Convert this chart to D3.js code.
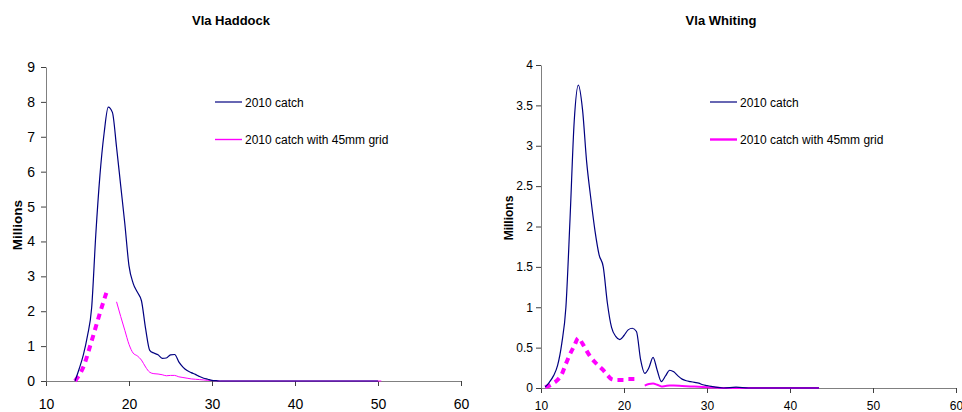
<!DOCTYPE html>
<html>
<head>
<meta charset="utf-8">
<title>Vla Haddock / Vla Whiting</title>
<script src="https://cdn.jsdelivr.net/npm/d3@7"></script>
<style>
  body { margin: 0; background: #fff; }
  svg text { font-family: "Liberation Sans", Arial, sans-serif; fill: #000; }
</style>
</head>
<body>
<script>
// Haddock (left) - length (cm) and catch (millions)
var hadLen   = [13.5, 14, 14.5, 15, 15.5, 16, 16.5, 17, 17.5, 18, 18.5, 19, 19.5, 20, 20.5, 21, 21.5, 22, 22.5, 23, 23.5, 24, 24.5, 25, 25.5, 26, 26.5, 27, 27.5, 28, 28.5, 29, 29.5, 30, 30.5, 31, 40, 50];
var hadCatch = [0, 0.35, 0.75, 1.3, 2.1, 4.2, 5.9, 7.1, 7.85, 7.7, 6.7, 5.6, 4.5, 3.3, 2.8, 2.55, 2.3, 1.5, 0.88, 0.8, 0.75, 0.65, 0.66, 0.75, 0.76, 0.55, 0.4, 0.3, 0.24, 0.19, 0.13, 0.08, 0.05, 0.02, 0.01, 0, 0, 0];
// 45mm grid: dotted part then solid part
var hadGridDotLen = [13.5, 14.5, 15.5, 16.5, 17.3];
var hadGridDot    = [0, 0.4, 1.15, 1.95, 2.55];
var hadGridLen = [18.5, 19, 19.5, 20, 20.5, 21, 21.5, 22, 22.5, 23, 23.5, 24, 24.5, 25, 25.5, 26, 26.5, 27, 27.5, 28, 28.5, 29, 29.5, 30, 31, 40, 50.4];
var hadGrid    = [2.27, 1.85, 1.45, 1.05, 0.8, 0.72, 0.6, 0.4, 0.25, 0.21, 0.2, 0.18, 0.15, 0.16, 0.16, 0.12, 0.1, 0.08, 0.06, 0.05, 0.04, 0.03, 0.02, 0.01, 0, 0, 0];

// Whiting (right)
var whiLen   = [10.5, 11, 11.5, 12, 12.5, 13, 13.5, 14, 14.5, 15, 15.5, 16, 16.5, 17, 17.5, 18, 18.5, 19, 19.5, 20, 20.5, 21, 21.5, 22, 22.5, 23, 23.5, 24, 24.5, 25, 25.5, 26, 26.5, 27, 27.5, 28, 28.5, 29, 29.5, 30, 30.5, 31, 32, 33.5, 35, 43.5];
var whiCatch = [0.01, 0.07, 0.15, 0.28, 0.55, 1.0, 2.1, 3.3, 3.75, 3.45, 2.8, 2.35, 1.95, 1.65, 1.5, 1.05, 0.75, 0.64, 0.6, 0.65, 0.72, 0.74, 0.7, 0.35, 0.18, 0.25, 0.38, 0.22, 0.08, 0.15, 0.22, 0.2, 0.15, 0.11, 0.09, 0.08, 0.07, 0.06, 0.04, 0.03, 0.02, 0.01, 0, 0.01, 0, 0];
var whiGridDotLen = [10.5, 11, 11.5, 12, 12.5, 13, 13.5, 14, 14.5, 15, 15.5, 16, 16.5, 17, 17.5, 18, 18.5, 19, 19.5, 20, 20.5, 21, 21.5];
var whiGridDot    = [0.01, 0.03, 0.06, 0.1, 0.17, 0.3, 0.42, 0.52, 0.62, 0.55, 0.46, 0.38, 0.32, 0.27, 0.22, 0.16, 0.11, 0.1, 0.1, 0.1, 0.11, 0.11, 0.11];
var whiGridLen = [22.5, 23, 23.5, 24, 24.5, 25, 25.5, 26, 27, 28, 29, 30, 31, 32, 43.5];
var whiGrid    = [0.03, 0.05, 0.055, 0.04, 0.02, 0.025, 0.03, 0.03, 0.025, 0.02, 0.015, 0.01, 0.005, 0, 0];

var xTicks = [10, 20, 30, 40, 50, 60];
var legendNames = ["2010 catch", "2010 catch with 45mm grid"];

var navy = "#000080", pink = "#ff00ff";

var svg = d3.select("body").append("svg")
	.attr("width", 962)
	.attr("height", 412);

function zip(xs, ys){
	return xs.map(function(x, i){ return [x, ys[i]]; });
}

function drawChart(c){
	var g = svg.append("g");
	var x = d3.scaleLinear().domain([10, 60]).range([c.left, c.right]);
	var y = d3.scaleLinear().domain([0, c.ymax]).range([c.bottom, c.top]);

	var xAxis = g.append("g")
		.attr("transform", "translate(0," + c.bottom + ")")
		.call(d3.axisBottom(x).tickValues(xTicks).tickSize(5).tickSizeOuter(0).tickPadding(c.xPad));
	var yAxis = g.append("g")
		.attr("transform", "translate(" + c.left + ",0)")
		.call(d3.axisLeft(y).tickValues(c.yTicks).tickSize(5).tickSizeOuter(0).tickPadding(c.yPad)
			.tickFormat(function(d){ return d3.format("")(d); }));
	[xAxis, yAxis].forEach(function(a){
		a.selectAll(".domain").attr("stroke", "#808080");
		a.selectAll(".tick line").attr("stroke", "#404040");
		a.selectAll("text")
			.style("font-family", "'Liberation Sans', Arial, sans-serif")
			.style("font-size", c.tickFont + "px")
			.attr("fill", "#000");
	});

	var line = d3.line()
		.x(function(d){ return x(d[0]); })
		.y(function(d){ return y(d[1]); })
		.curve(d3.curveMonotoneX);

	g.append("path").attr("d", line(zip(c.gridLen, c.grid)))
		.attr("fill", "none").attr("stroke", pink).attr("stroke-width", c.gridWidth);
	g.append("path").attr("d", line(zip(c.dotLen, c.dot)))
		.attr("fill", "none").attr("stroke", pink).attr("stroke-width", 4)
		.attr("stroke-dasharray", "6,5");
	g.append("path").attr("d", line(zip(c.len, c.catchVals)))
		.attr("fill", "none").attr("stroke", navy).attr("stroke-width", 1.2);

	// title
	svg.append("text")
		.attr("x", c.titleX).attr("y", 25)
		.attr("text-anchor", "middle")
		.style("font-size", "13px").style("font-weight", "bold")
		.text(c.title);

	// y label
	svg.append("text")
		.attr("transform", "translate(" + c.ylabX + "," + c.ylabY + ") rotate(-90)")
		.attr("text-anchor", "middle")
		.style("font-size", c.ylabFont + "px").style("font-weight", "bold")
		.text("Millions");

	// legend
	var cols = [navy, pink];
	var widths = [1.2, c.gridWidth + 0.4];
	legendNames.forEach(function(n, i){
		var ly = 102 + i * 37.5;
		svg.append("line")
			.attr("x1", c.legX).attr("x2", c.legX + 27)
			.attr("y1", ly).attr("y2", ly)
			.attr("stroke", cols[i]).attr("stroke-width", widths[i]);
		svg.append("text")
			.attr("x", c.legX + 30).attr("y", ly + 4.5)
			.style("font-size", "12px")
			.text(n);
	});
}

drawChart({
	title: "Vla Haddock", titleX: 231,
	left: 46, right: 461, top: 67, bottom: 381, ymax: 9,
	yTicks: d3.range(0, 10, 1), tickFont: 14, xPad: 13, yPad: 6,
	ylabX: 22, ylabY: 225, ylabFont: 13.5,
	len: hadLen, catchVals: hadCatch,
	dotLen: hadGridDotLen, dot: hadGridDot,
	gridLen: hadGridLen, grid: hadGrid, gridWidth: 1,
	legX: 215
});

drawChart({
	title: "Vla Whiting", titleX: 721,
	left: 541, right: 956, top: 65, bottom: 388, ymax: 4,
	yTicks: d3.range(0, 4.5, 0.5), tickFont: 12, xPad: 8, yPad: 3,
	ylabX: 513, ylabY: 218, ylabFont: 12,
	len: whiLen, catchVals: whiCatch,
	dotLen: whiGridDotLen, dot: whiGridDot,
	gridLen: whiGridLen, grid: whiGrid, gridWidth: 2,
	legX: 710
});
</script>
</body>
</html>
